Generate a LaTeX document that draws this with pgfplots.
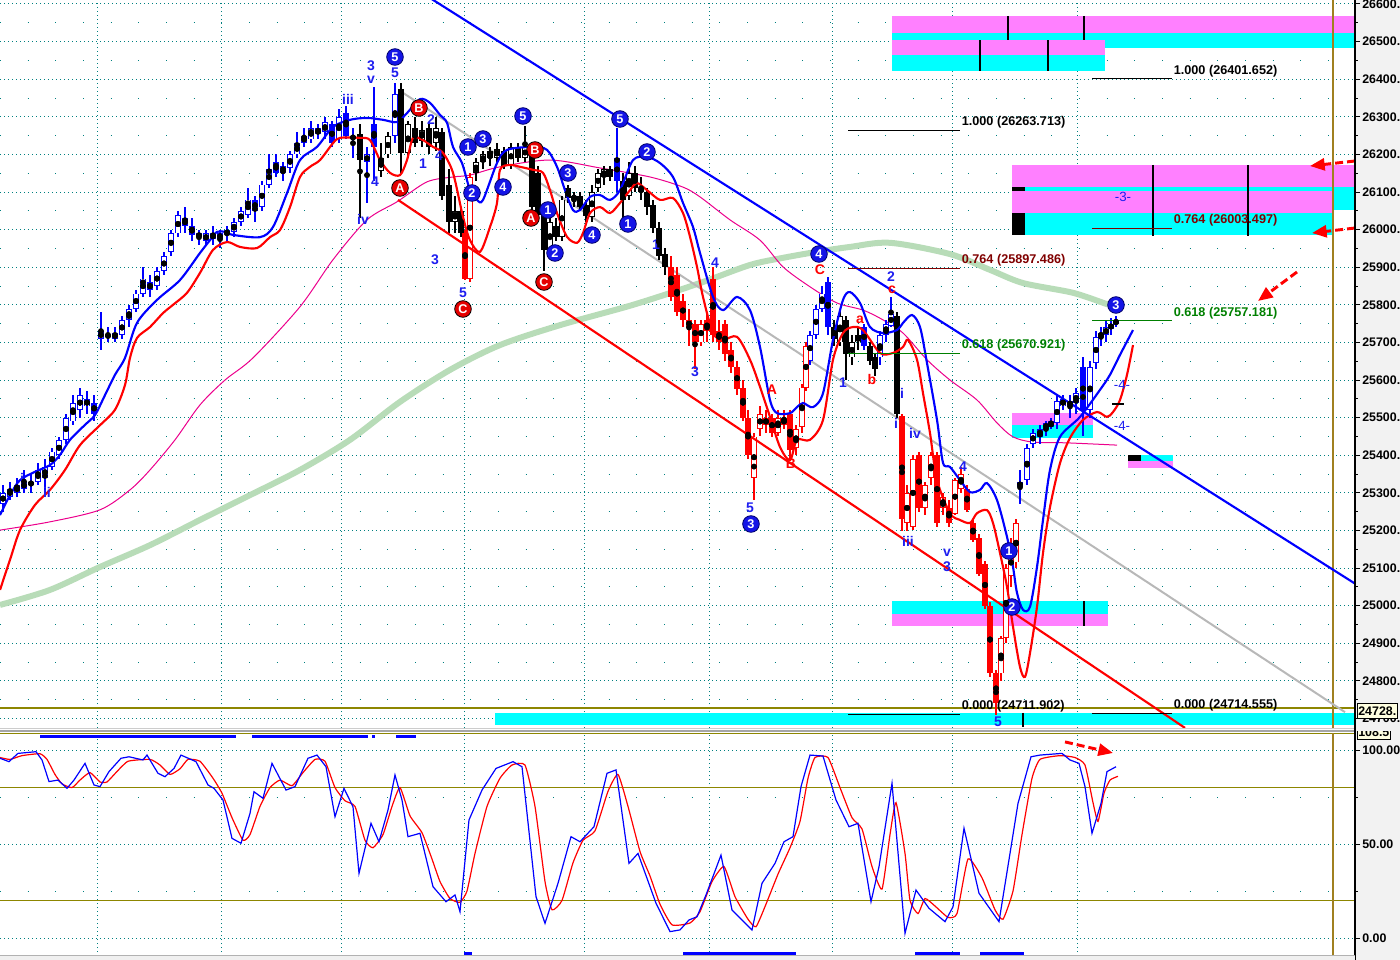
\documentclass[border=0pt]{standalone}
\usepackage{fontspec}
\setmainfont{Liberation Sans}
\usepackage{pgfplots}
\usepackage{pgfplotstable}
\pgfplotsset{compat=1.18}
\usetikzlibrary{arrows.meta}

\definecolor{zmag}{HTML}{FF80FF}
\definecolor{zcyan}{HTML}{00FFFF}
\definecolor{wblue}{HTML}{1E1EF0}
\definecolor{cblue}{HTML}{1414E6}
\definecolor{maroon}{HTML}{800000}
\definecolor{fgreen}{HTML}{008000}
\definecolor{mgreen}{HTML}{B8DCB8}
\definecolor{chgray}{HTML}{B8B8B8}
\definecolor{gridc}{HTML}{008080}
\definecolor{vline}{HTML}{A08020}
\definecolor{boxy}{HTML}{FFFFE0}

% candles: x open high low close
\pgfplotstableread{
x o h l c
3 25270 25320 25250 25300
10 25290 25330 25280 25310
17 25300 25340 25290 25320
24 25310 25360 25300 25330
31 25320 25350 25300 25330
38 25330 25380 25320 25360
45 25340 25390 25300 25370
52 25370 25420 25360 25410
59 25400 25450 25390 25440
66 25440 25510 25430 25500
73 25490 25560 25480 25540
80 25520 25580 25500 25560
87 25530 25570 25510 25550
94 25540 25560 25490 25510
101 25710 25780 25680 25730
108 25720 25740 25700 25715
115 25710 25740 25700 25725
122 25720 25770 25710 25760
129 25760 25800 25740 25790
136 25790 25840 25780 25830
143 25830 25900 25820 25870
150 25860 25880 25820 25840
157 25850 25900 25840 25890
164 25890 25940 25880 25930
171 25940 26000 25930 25990
178 25990 26050 25980 26040
185 26030 26060 25990 26010
192 26010 26030 25970 25985
199 25990 26000 25960 25980
206 25970 26000 25960 25990
213 25990 26010 25960 25975
220 25975 26000 25950 25990
227 25985 26010 25970 26000
234 25995 26030 25980 26020
241 26020 26060 26010 26050
248 26040 26110 26030 26080
255 26080 26090 26020 26050
262 26060 26130 26050 26120
269 26120 26200 26110 26160
276 26180 26200 26140 26150
283 26150 26180 26130 26170
290 26165 26210 26150 26200
297 26200 26260 26190 26230
304 26230 26270 26220 26250
311 26240 26290 26230 26270
318 26270 26280 26240 26255
325 26260 26300 26240 26285
332 26280 26290 26220 26230
339 26240 26320 26230 26300
346 26310 26330 26240 26250
353 26250 26270 26190 26240
367 26180 26220 26070 26200
374 26280 26380 26130 26220
395 26250 26390 26230 26360
617 26190 26270 26100 26130
810 25650 25730 25640 25720
816 25720 25800 25710 25790
822 25790 25850 25780 25830
828 25860 25875 25720 25740
864 25740 25750 25680 25690
880 25660 25730 25640 25720
886 25720 25760 25700 25750
891 25745 25820 25740 25775
1020 25315 25360 25270 25330
1027 25335 25430 25320 25420
1033 25430 25470 25420 25460
1040 25450 25480 25430 25470
1046 25470 25490 25450 25485
1051 25490 25500 25470 25475
1057 25485 25560 25470 25545
1063 25530 25560 25520 25550
1070 25530 25560 25500 25545
1076 25540 25580 25510 25565
1083 25635 25660 25450 25520
1090 25520 25650 25500 25635
1096 25645 25730 25630 25715
1101 25715 25740 25690 25725
1106 25720 25760 25700 25740
1111 25735 25765 25720 25750
1116 25750 25770 25740 25758
}\bluecandles

\pgfplotstableread{
x o h l c
360 26255 26280 26030 26185
381 26155 26230 26140 26190
388 26200 26260 26190 26250
401 26375 26390 26150 26205
408 26205 26290 26190 26280
415 26270 26300 26220 26230
422 26235 26290 26220 26265
429 26270 26280 26200 26220
436 26230 26300 26210 26270
442 26260 26270 26080 26090
449 26120 26160 25990 26020
455 26020 26090 25990 26050
461 26050 26060 25980 25990
476 26150 26190 26130 26180
483 26180 26210 26160 26200
490 26210 26220 26170 26190
497 26190 26230 26180 26215
504 26210 26220 26160 26170
511 26170 26230 26160 26220
518 26220 26230 26180 26190
525 26190 26275 26180 26220
532 26220 26230 26040 26060
538 26150 26170 26030 26040
544 26045 26060 25890 25945
550 25945 26030 25930 26020
556 26010 26030 25970 25980
562 25980 26090 25970 26080
568 26110 26120 26070 26085
574 26080 26100 26060 26090
580 26090 26100 26050 26060
586 26065 26080 26020 26035
592 26035 26120 26020 26100
598 26110 26160 26100 26150
604 26140 26170 26120 26160
610 26160 26170 26130 26140
623 26130 26150 26020 26080
629 26090 26180 26080 26150
635 26150 26170 26100 26110
641 26110 26140 26080 26100
647 26100 26110 26040 26060
653 26065 26080 25990 26005
659 26005 26020 25920 25930
665 25935 25950 25880 25900
834 25740 25760 25690 25710
840 25700 25790 25690 25770
846 25760 25770 25600 25670
852 25660 25720 25640 25700
858 25700 25740 25680 25720
870 25690 25700 25640 25650
875 25660 25670 25610 25630
897 25770 25780 25500 25510
}\blackcandles

\pgfplotstableread{
x o h l c
465 25990 26000 25865 25870
470 25870 26150 25860 26140
671 25900 25930 25810 25820
677 25880 25900 25770 25780
683 25810 25830 25740 25760
689 25760 25790 25690 25740
695 25750 25760 25630 25700
701 25700 25760 25690 25750
707 25760 25780 25700 25730
713 25870 25900 25700 25720
719 25730 25760 25680 25700
725 25750 25760 25650 25670
731 25680 25700 25620 25635
737 25635 25650 25560 25575
743 25580 25600 25490 25500
748 25500 25520 25390 25400
754 25340 25460 25280 25450
760 25470 25530 25450 25510
766 25480 25520 25460 25500
772 25500 25510 25450 25460
778 25460 25520 25450 25500
784 25500 25520 25470 25480
790 25510 25520 25390 25415
796 25420 25480 25400 25470
802 25475 25590 25460 25580
806 25580 25700 25570 25690
902 25505 25510 25200 25230
907 25220 25320 25200 25300
913 25210 25400 25200 25390
919 25400 25410 25250 25260
925 25260 25330 25240 25320
931 25340 25410 25320 25400
937 25400 25410 25210 25220
943 25260 25300 25240 25290
949 25260 25280 25210 25220
955 25245 25340 25240 25335
961 25310 25370 25300 25350
967 25310 25320 25250 25255
973 25220 25230 25170 25175
979 25180 25190 25080 25085
985 25110 25120 24990 25000
990 25000 25010 24810 24820
996 24820 24830 24710 24740
1001 24820 24920 24800 24915
1006 24915 25110 24900 25100
1011 25080 25180 25050 25150
1016 25115 25230 25100 25220
}\redcandles

\newcommand\candles[2]{%
 \addplot[only marks, mark=none, forget plot, error bars/.cd, y dir=both, y explicit,
   error mark=none, error bar style={draw=#2, line width=0.8pt}]
   table[x=x, y expr={(\thisrow{h}+\thisrow{l})/2}, y error expr={(\thisrow{h}-\thisrow{l})/2}] {#1};
 \addplot[only marks, mark=none, forget plot, error bars/.cd, y dir=both, y explicit,
   error mark=none, error bar style={draw=#2, line width=3.9pt}]
   table[x=x, y expr={(\thisrow{o}+\thisrow{c})/2}, y error expr={max(abs(\thisrow{c}-\thisrow{o})/2,1.4)}] {#1};
 \addplot[only marks, mark=none, forget plot, error bars/.cd, y dir=both, y explicit,
   error mark=none, error bar style={draw=white, line width=2.3pt}]
   table[x=x, y expr={(\thisrow{o}+\thisrow{c})/2}, y error expr={max((\thisrow{c}-\thisrow{o})/2-2.4,0)}] {#1};
}

% wave label placed by picture position (x px, y px) in the price panel
\newcommand\wl[4]{%
 \pgfmathsetmacro\rx{#1/1355}\pgfmathsetmacro\ry{1-#2/728}%
 \edef\tmp{\noexpand\node[\unexpanded{#3}] at (rel axis cs:\rx,\ry) {\unexpanded{#4}};}\tmp}

\tikzset{
 lbl/.style={font=\bfseries\fontsize{10.5}{11}\selectfont, inner sep=0pt},
 wb/.style={lbl, text=wblue},
 wr/.style={lbl, text=red},
 cb/.style={circle, fill=cblue, draw=black!60!blue, line width=0.6pt, minimum size=12.5pt,
   inner sep=0pt, text=white, font=\bfseries\fontsize{9.5}{10}\selectfont},
 cr/.style={circle, fill=red!90!black, draw=black, line width=0.6pt, minimum size=12.5pt,
   inner sep=0pt, text=white, font=\bfseries\fontsize{9.5}{10}\selectfont},
 fib/.style={anchor=south west, inner sep=1pt, font=\bfseries\fontsize{9.5}{10}\selectfont},
 darr/.style={red, line width=2.2pt, dash pattern=on 6pt off 3pt, -{Triangle[length=11pt, width=9pt]}},
}

\begin{document}
\begin{tikzpicture}
\fill[gray!10] (1016.25pt,0) rectangle (1050pt,-720pt);

\begin{axis}[name=top, at={(0,0)}, anchor=north west, scale only axis,
  width=1016.25pt, height=546pt,
  xmin=0, xmax=1355, ymin=24674.8, ymax=26610.6,
  axis line style={draw=none},
  xtick={97,221,341,464,584,709,832,952,1077}, xticklabels={}, x tick style={draw=none},
  ytick={24700,24800,...,26600},
  yticklabels={24700.,24800.,24900.,25000.,25100.,25200.,25300.,25400.,25500.,25600.,
    25700.,25800.,25900.,26000.,26100.,26200.,26300.,26400.,26500.,26600.},
  minor ytick={24750,24850,...,26550},
  ytick pos=right, yticklabel pos=right, tick align=outside,
  major tick length=3.75pt, minor tick length=2pt,
  y tick style={black, line width=0.75pt},
  yticklabel style={font=\bfseries\fontsize{9.3}{10}\selectfont, inner sep=1.5pt},
  xmajorgrids, ymajorgrids, yminorgrids,
  major grid style={gridc, line width=0.75pt, dash pattern=on 0.75pt off 2.25pt},
  minor grid style={gridc, line width=0.75pt, dash pattern=on 0.75pt off 20pt},
]
% zones
\fill[zmag] (axis cs:892,26568.1) rectangle (axis cs:1355,26522.9);
\fill[zcyan] (axis cs:892,26522.9) rectangle (axis cs:1355,26483.0);
\fill[zmag] (axis cs:892,26504.2) rectangle (axis cs:1105,26464.4);
\fill[zcyan] (axis cs:892,26464.4) rectangle (axis cs:1105,26421.8);
\draw[black, line width=2.2pt] (axis cs:1008,26568.1) -- (axis cs:1008,26504.2);
\draw[black, line width=2.2pt] (axis cs:1084,26568.1) -- (axis cs:1084,26504.2);
\draw[black, line width=2.2pt] (axis cs:980,26504.2) -- (axis cs:980,26421.8);
\draw[black, line width=2.2pt] (axis cs:1048,26504.2) -- (axis cs:1048,26421.8);

\fill[zmag] (axis cs:1012,26171.9) rectangle (axis cs:1355,26113.4);
\fill[zcyan] (axis cs:1025,26113.4) rectangle (axis cs:1355,26102.7);
\fill[zcyan] (axis cs:1333,26102.7) rectangle (axis cs:1355,26052.2);
\fill[zmag] (axis cs:1012,26102.7) rectangle (axis cs:1333,26044.2);
\fill[zcyan] (axis cs:1025,26044.2) rectangle (axis cs:1333,25985.7);
\fill[black] (axis cs:1012,26113.4) rectangle (axis cs:1025,26102.7);
\fill[black] (axis cs:1012,26044.2) rectangle (axis cs:1025,25985.7);
\draw[black, line width=2.2pt] (axis cs:1153,26171.9) -- (axis cs:1153,25983.1);
\draw[black, line width=2.2pt] (axis cs:1248,26171.9) -- (axis cs:1248,25983.1);

\fill[zmag] (axis cs:1012,25512.4) rectangle (axis cs:1093,25480.5);
\fill[zcyan] (axis cs:1012,25480.5) rectangle (axis cs:1093,25446.0);
\fill[black] (axis cs:1128,25400.8) rectangle (axis cs:1141,25384.8);
\fill[zcyan] (axis cs:1141,25400.8) rectangle (axis cs:1173,25384.8);
\fill[zmag] (axis cs:1128,25384.8) rectangle (axis cs:1173,25366.2);

\fill[zcyan] (axis cs:892,25012.5) rectangle (axis cs:1108,24978.0);
\fill[zmag] (axis cs:892,24978.0) rectangle (axis cs:1108,24946.1);
\draw[black, line width=2.2pt] (axis cs:1004,25012.5) -- (axis cs:1004,24946.1);
\draw[black, line width=2.2pt] (axis cs:1084,25012.5) -- (axis cs:1084,24946.1);

\fill[zcyan] (axis cs:495,24714.7) rectangle (axis cs:1355,24682.8);
\draw[black, line width=2.2pt] (axis cs:1023,24714.7) -- (axis cs:1023,24677.5);
\draw[olive, line width=0.9pt] (axis cs:0,24728) -- (axis cs:1355,24728);
\draw[vline, line width=1pt] (axis cs:1333,24674.8) -- (axis cs:1333,26610.6);

% slow average
\addplot[mgreen, line width=4.5pt, smooth] coordinates {
(0,25002)(50,25042)(100,25103)(150,25161)(200,25228)(250,25294)(300,25361)(350,25441)
(400,25542)(450,25627)(500,25693)(560,25746)(633,25800)(700,25858)(750,25906)(783,25925)
(817,25941)(850,25954)(890,25965)(950,25935)(990,25893)(1023,25858)(1073,25832)(1107,25802)(1116,25798)};
% thin average
\addplot[magenta, line width=0.75pt, smooth] coordinates {
(0,25201)(50,25223)(100,25255)(130,25308)(150,25361)(175,25441)(200,25534)(225,25600)
(253,25659)(300,25795)(333,25920)(367,26026)(397,26074)(427,26127)(453,26140)(470,26145)
(500,26167)(550,26185)(600,26164)(650,26140)(683,26113)(700,26087)(730,26026)(760,25972)
(783,25901)(810,25848)(837,25805)(863,25786)(883,25760)(903,25725)(927,25654)(950,25600)
(977,25547)(997,25486)(1013,25449)(1033,25435)(1067,25433)(1117,25427)};
% gray channel line
\addplot[chgray, line width=1.5pt] coordinates {(400,26369)(1345,24717)};

\candles{\bluecandles}{blue}
\candles{\blackcandles}{black}
\candles{\redcandles}{red}

% fast averages
\addplot[blue, line width=1.6pt, smooth] coordinates {
(0,25241)(10,25294)(20,25334)(35,25356)(50,25374)(60,25401)(70,25441)(85,25481)(95,25507)
(105,25560)(115,25614)(125,25659)(137,25752)(157,25813)(180,25866)(200,25938)(210,25972)
(217,25994)(225,25994)(233,25986)(260,25980)(273,26007)(287,26097)(300,26185)(317,26220)
(333,26273)(350,26292)(367,26297)(383,26292)(397,26286)(407,26310)(420,26347)(430,26337)
(440,26305)(447,26284)(453,26220)(462,26177)(470,26105)(477,26079)(483,26079)(497,26177)
(507,26212)(533,26220)(547,26212)(557,26167)(565,26105)(573,26052)(580,26052)(590,26087)
(600,26092)(610,26079)(620,26105)(633,26185)(647,26193)(660,26177)(673,26140)(683,26071)
(693,26007)(700,25938)(713,25821)(723,25786)(737,25821)(750,25786)(760,25688)(770,25547)
(777,25512)(790,25512)(797,25528)(803,25539)(813,25528)(823,25565)(833,25707)(843,25813)
(850,25834)(860,25805)(870,25741)(883,25725)(897,25733)(903,25752)(912,25773)(920,25741)
(927,25645)(937,25494)(943,25380)(950,25369)(960,25334)(970,25302)(980,25308)(987,25326)
(997,25281)(1007,25183)(1013,25103)(1017,25034)(1023,24989)(1030,24997)(1037,25103)
(1043,25228)(1050,25361)(1060,25449)(1080,25502)(1100,25574)(1110,25614)(1120,25667)(1133,25733)};
\addplot[red, line width=1.6pt, smooth] coordinates {
(0,25042)(10,25122)(20,25201)(35,25268)(50,25308)(65,25361)(80,25427)(100,25480)(115,25521)
(125,25587)(130,25659)(137,25712)(150,25741)(163,25778)(173,25800)(187,25832)(200,25885)
(213,25946)(227,25967)(240,25954)(257,25951)(270,25980)(280,25999)(290,26060)(300,26140)
(310,26167)(320,26185)(333,26230)(340,26244)(360,26244)(370,26238)(380,26185)(390,26151)
(400,26145)(407,26185)(413,26244)(423,26238)(433,26220)(443,26204)(453,26151)(463,26034)
(470,25972)(480,25941)(490,26007)(497,26071)(500,26159)(510,26172)(520,26167)(533,26159)
(543,26151)(550,26105)(557,26044)(567,25981)(577,25965)(583,25991)(590,26044)(600,26060)
(610,26044)(620,26071)(630,26105)(637,26124)(647,26105)(660,26079)(673,26084)(683,26044)
(690,25981)(697,25901)(703,25821)(713,25725)(723,25707)(737,25715)(750,25654)(760,25582)
(770,25502)(780,25422)(790,25387)(797,25441)(810,25441)(823,25494)(833,25654)(843,25725)
(853,25741)(863,25733)(880,25672)(893,25672)(903,25688)(908,25707)(917,25654)(923,25565)
(930,25459)(937,25334)(950,25246)(960,25228)(970,25220)(977,25246)(987,25254)(993,25220)
(1000,25140)(1007,25050)(1013,24944)(1020,24837)(1025,24811)(1030,24874)(1037,24997)
(1043,25140)(1050,25262)(1060,25379)(1070,25446)(1083,25494)(1097,25515)(1107,25502)
(1113,25515)(1120,25547)(1127,25614)(1133,25693)};

% channel lines
\addplot[blue, line width=1.6pt] coordinates {(430,26616)(1400,24983)};
\addplot[red, line width=1.6pt] coordinates {(398,26079)(1185,24675)};

% fibonacci levels
\draw[black, line width=0.75pt] (axis cs:1092,26401.652) -- (axis cs:1172,26401.652) node[fib] {1.000 (26401.652)};
\draw[black, line width=0.75pt] (axis cs:848,26263.713) -- (axis cs:960,26263.713) node[fib] {1.000 (26263.713)};
\draw[maroon, line width=0.75pt] (axis cs:1092,26003.497) -- (axis cs:1172,26003.497) node[fib, text=maroon] {0.764 (26003.497)};
\draw[maroon, line width=0.75pt] (axis cs:848,25897.486) -- (axis cs:960,25897.486) node[fib, text=maroon] {0.764 (25897.486)};
\draw[fgreen, line width=0.75pt] (axis cs:1092,25757.181) -- (axis cs:1172,25757.181) node[fib, text=fgreen] {0.618 (25757.181)};
\draw[fgreen, line width=0.75pt] (axis cs:848,25670.921) -- (axis cs:960,25670.921) node[fib, text=fgreen] {0.618 (25670.921)};
\draw[black, line width=0.75pt] (axis cs:1092,24714.555) -- (axis cs:1172,24714.555) node[fib] {0.000 (24714.555)};
\draw[black, line width=0.75pt] (axis cs:848,24711.902) -- (axis cs:960,24711.902) node[fib] {0.000 (24711.902)};
\draw[black, line width=1.5pt] (axis cs:1112,25536.4) -- (axis cs:1124,25536.4);

% wave labels
\wl{22}{478}{wb}{i}\wl{47}{492}{wb}{ii}
\wl{348}{99}{wb}{iii}\wl{371}{66}{wb}{3}\wl{371}{80}{wb}{v}\wl{395}{73}{wb}{5}
\wl{375}{182}{wb}{4}\wl{363}{219}{wb}{iv}\wl{431}{120}{wb}{2}\wl{439}{156}{wb}{4}
\wl{423}{164}{wb}{1}\wl{435}{260}{wb}{3}\wl{463}{293}{wb}{5}
\wl{656}{245}{wb}{1}\wl{715}{263}{wb}{4}\wl{695}{372}{wb}{3}\wl{750}{508}{wb}{5}
\wl{891}{277}{wb}{2}\wl{843}{383}{wb}{1}\wl{902}{393}{wb}{i}\wl{896}{423}{wb}{i}
\wl{915}{433}{wb}{iv}\wl{908}{541}{wb}{iii}\wl{947}{553}{wb}{v}\wl{947}{567}{wb}{3}
\wl{963}{467}{wb}{4}\wl{998}{722}{wb}{5}
\wl{1123}{197}{wb, font=\fontsize{10}{11}\selectfont}{-3-}
\wl{1122}{385}{wb, font=\fontsize{10}{11}\selectfont}{-4-}
\wl{1122}{426}{wb, font=\fontsize{10}{11}\selectfont}{-4-}
\wl{820}{270}{wr}{C}\wl{892}{290}{wr}{c}\wl{860}{320}{wr}{a}\wl{872}{379}{wr}{b}
\wl{772}{390}{wr}{A}\wl{791}{464}{wr}{B}
\wl{395}{57}{cb}{5}\wl{468}{147}{cb}{1}\wl{483}{139}{cb}{3}\wl{472}{193}{cb}{2}
\wl{503}{187}{cb}{4}\wl{523}{116}{cb}{5}\wl{548}{210}{cb}{1}\wl{555}{253}{cb}{2}
\wl{568}{173}{cb}{3}\wl{592}{235}{cb}{4}\wl{620}{119}{cb}{5}\wl{647}{152}{cb}{2}
\wl{628}{224}{cb}{1}\wl{819}{254}{cb}{4}\wl{751}{524}{cb}{3}\wl{1009}{551}{cb}{1}
\wl{1012}{607}{cb}{2}\wl{1116}{305}{cb}{3}
\wl{419}{108}{cr}{B}\wl{400}{188}{cr}{A}\wl{463}{309}{cr}{C}
\wl{535}{150}{cr}{B}\wl{531}{218}{cr}{A}\wl{544}{282}{cr}{C}

% arrows
\draw[darr] (axis cs:1355,26182.5) -- (axis cs:1310,26169.2);
\draw[darr] (axis cs:1355,26004.3) -- (axis cs:1312,25991.0);
\draw[darr] (axis cs:1297,25887.4) -- (axis cs:1258,25810.3);
\end{axis}

% panel separator
\fill[white] (0,-546pt) rectangle (1016.25pt,-549.75pt);
\draw[gray!40, line width=0.75pt] (0,-546.6pt) -- (1016.25pt,-546.6pt);
\draw[gray!70, line width=1.4pt] (0,-548.4pt) -- (1016.25pt,-548.4pt);

\begin{axis}[name=bot, at={(0,-549.75pt)}, anchor=north west, scale only axis,
  width=1016.25pt, height=170.25pt,
  xmin=0, xmax=1355, ymin=-11.7, ymax=109.04,
  axis line style={draw=none}, unbounded coords=jump,
  xtick={97,221,341,464,584,709,832,952,1077}, xticklabels={}, x tick style={draw=none},
  ytick={0,50,100}, yticklabels={0.00,50.00,100.00}, minor ytick={25,75},
  ytick pos=right, yticklabel pos=right, tick align=outside,
  major tick length=3.75pt, minor tick length=2pt,
  y tick style={black, line width=0.75pt},
  yticklabel style={font=\bfseries\fontsize{9.3}{10}\selectfont, inner sep=1.5pt},
  xmajorgrids, ymajorgrids, yminorgrids,
  major grid style={gridc, line width=0.75pt, dash pattern=on 0.75pt off 2.25pt},
  minor grid style={gridc, line width=0.75pt, dash pattern=on 0.75pt off 20pt},
]
\draw[olive, line width=0.9pt] (axis cs:0,80) -- (axis cs:1355,80);
\draw[olive, line width=0.9pt] (axis cs:0,20) -- (axis cs:1355,20);
\draw[olive, line width=0.9pt] (axis cs:0,108.8) -- (axis cs:1355,108.8);
\draw[vline, line width=1pt] (axis cs:1333,-11.7) -- (axis cs:1333,109.04);

\addplot[blue, line width=2.2pt] coordinates {(40,107.3)(236,107.3)(240,nan)(252,107.3)(368,107.3)
  (370,nan)(372,107.3)(375,107.3)(380,nan)(396,107.3)(416,107.3)};
\addplot[blue, line width=2.2pt] coordinates {(464,-8)(472,-8)(480,nan)(683,-8)(796,-8)
  (800,nan)(915,-8)(960,-8)(970,nan)(980,-8)(1024,-8)};

\addplot[red, line width=0.9pt, smooth, tension=0.3] coordinates {
(0,96)(10,95)(22,97)(40,98)(47,95)(55,87)(62,82)(72,80)(80,84)(90,88)(100,83)(107,83)
(116,88)(128,94)(150,95)(160,92)(170,87)(180,90)(188,95)(200,94)(213,85)(222,77)(232,64)
(243,52)(250,55)(260,70)(270,80)(280,84)(292,81)(303,88)(315,95)(325,94)(335,80)(345,73)
(355,70)(365,52)(373,48)(383,55)(392,70)(400,80)(410,65)(422,56)(432,42)(440,30)(450,21)
(460,19)(467,25)(475,45)(487,70)(500,85)(512,92)(525,92)(535,70)(545,30)(552,15)(562,20)
(573,40)(583,52)(595,57)(608,78)(618,87)(628,70)(640,46)(650,33)(660,18)(672,7)(690,8)
(700,14)(712,30)(724,38)(735,22)(748,10)(756,6)(766,18)(778,34)(790,48)(800,62)(808,85)
(815,96)(828,96)(840,80)(852,64)(862,58)(872,38)(882,26)(890,55)(896,72)(905,45)(910,20)
(918,13)(925,21)(935,17)(948,11)(957,13)(968,42)(982,32)(995,15)(1003,10)(1013,25)
(1022,55)(1032,85)(1040,95)(1060,97)(1075,96)(1085,92)(1093,72)(1098,62)(1104,77)
(1110,84)(1118,86)};
\addplot[blue, line width=0.9pt] coordinates {
(0,95.6)(9,93.8)(18,98.2)(36,99.1)(42,94.7)(49,83.2)(58,84)(67,79.6)(74,84)(85,92.9)
(94,81.4)(100,80.5)(109,88.5)(121,95.6)(129,96.4)(143,94.7)(147,97.3)(158,87.6)(165,85.8)
(174,90.2)(181,97.3)(196,93.8)(208,81.4)(214,79.6)(223,73.4)(232,53)(241,50.4)(250,66.3)
(254,77.8)(263,74.3)(272,92.9)(286,78.7)(295,80.5)(308,95.6)(317,97.3)(326,91.1)(335,64.5)
(344,79.6)(353,69.8)(359,34.4)(371,61)(379,51.2)(388,68.1)(395,86.7)(402,73.4)(408,53.9)
(420,55.7)(433,27.3)(446,19.3)(455,22.9)(460,14)(469,62.8)(482,78.7)(496,90.2)(513,93.8)
(522,91.1)(536,22)(545,7.8)(558,29.1)(571,53.9)(580,51.2)(594,59.2)(607,87.6)(616,89.4)
(629,39.7)(638,45)(656,18.5)(670,3.4)(680,4.3)(689,9.6)(697,11.3)(706,22.9)(721,44.1)
(732,14.9)(752,4.3)(762,29.1)(775,39.7)(784,51.2)(793,53.9)(801,80.5)(810,97.3)(823,96.8)
(836,73.4)(849,59.2)(858,61)(871,19.3)(879,37.9)(892,82.3)(905,2.5)(916,25.5)(929,15.8)
(945,8.7)(953,16.6)(964,58.4)(979,23.8)(999,8.7)(1010,45)(1018,71.6)(1031,96.4)(1040,97.3)
(1062,98.2)(1070,94.7)(1079,92.9)(1085,80.5)(1092,55.7)(1101,71.6)(1107,88.5)(1116,91.1)};

\draw[darr] (axis cs:1065,104.3) -- (axis cs:1113,98.4);
\end{axis}

% price axis line and marker boxes
\draw[black, line width=0.9pt] (1016.25pt,0) -- (1016.25pt,-720pt);
\node[fill=boxy, draw=black, line width=0.5pt, anchor=west, inner sep=1pt, minimum height=11pt,
  font=\bfseries\fontsize{9.3}{10}\selectfont] at (1017.5pt,-533.25pt) {24728.};
\begin{scope}
\clip (1016.5pt,-548.4pt) rectangle (1050pt,-560pt);
\node[fill=boxy, draw=black, line width=0.5pt, anchor=west, inner sep=1pt, minimum height=11pt,
  font=\bfseries\fontsize{9.3}{10}\selectfont] at (1017.5pt,-549pt) {108.5};
\end{scope}
\fill[gray!12] (0,-716.5pt) rectangle (1016.25pt,-720pt);
\draw[gray!60, line width=0.5pt] (0,-716.5pt) -- (1016.25pt,-716.5pt);

\pgfresetboundingbox
\useasboundingbox (0,0) rectangle (1050pt,-720pt);
\end{tikzpicture}
\end{document}
